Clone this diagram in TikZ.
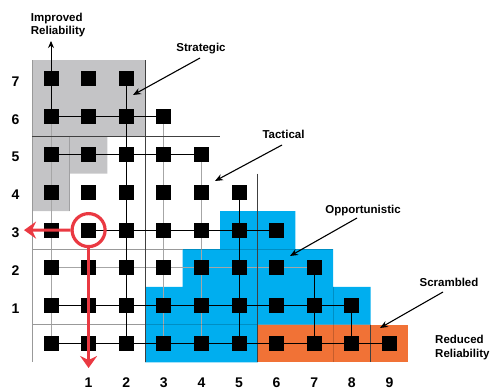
\documentclass[tikz,border=0pt]{standalone}
\usepackage{fontspec}
\setmainfont{Liberation Sans}
\usetikzlibrary{arrows.meta}
\definecolor{shadeGray}{RGB}{196,196,198}
\definecolor{shadeBlue}{RGB}{0,174,239}
\definecolor{shadeOrange}{RGB}{241,114,54}
\definecolor{markRed}{RGB}{234,57,66}
\pgfdeclarelayer{bg}
\pgfsetlayers{bg,main}
\begin{document}
\begin{tikzpicture}[x=1pt,y=-1pt,
  cell/.style={fill=black,minimum size=15pt,inner sep=0pt,outer sep=0pt},
  gridline/.style={draw=black!35,line width=0.9pt},
  link/.style={draw=black,line width=0.9pt},
  sepdark/.style={draw=black!75,line width=0.8pt},
  seplight/.style={draw=black!40,line width=0.8pt},
  sepfaint/.style={draw=black,opacity=0.18,line width=0.8pt},
  annot/.style={draw=black,line width=1.1pt,-{Stealth[length=8pt,width=6.5pt]}},
  redarrow/.style={draw=markRed,line width=3.2pt,-{Stealth[length=12pt,width=17pt,inset=4pt]}},
  lbl/.style={font=\bfseries\fontsize{11.5}{13.5}\selectfont,inner sep=0pt},
  axis/.style={font=\bfseries\fontsize{14}{16}\selectfont,inner sep=0pt}]
\useasboundingbox (0,0) rectangle (490,391);

% reliability cells: row j holds columns 0 .. 9-j
\foreach \j in {0,...,7}{
  \pgfmathtruncatemacro\last{9-\j}
  \foreach \i in {0,...,\last}{
    \node[cell] (s\i\j) at ({51+37.6*\i},{343.5-37.8*\j}) {};
  }
}

% free ends of the connectors
\coordinate (uptip) at (51,41);
\coordinate (rowtip) at (24,230.1);
\coordinate (coltip) at (88.6,368);
\coordinate (strat-from) at (200,58);
\coordinate (strat-to) at (133,95);
\coordinate (tact-from) at (282,145);
\coordinate (tact-to) at (215,181);
\coordinate (opp-from) at (357,218);
\coordinate (opp-to) at (290,256);
\coordinate (scr-from) at (443,292);
\coordinate (scr-to) at (380,328);

\begin{pgfonlayer}{bg}
  % zones
  \fill[shadeGray] (32.2,60) -- (145,60) -- (145,136) -- (107.4,136) -- (107.4,173.7)
     -- (69.8,173.7) -- (69.8,211.2) -- (32.2,211.2) -- cycle;
  \fill[shadeBlue] (220.2,211.2) -- (295.4,211.2) -- (295.4,249) -- (333,249) -- (333,286.8)
     -- (370.6,286.8) -- (370.6,324.6) -- (257.8,324.6) -- (257.8,362.4) -- (145,362.4)
     -- (145,286.8) -- (182.6,286.8) -- (182.6,249) -- (220.2,249) -- cycle;
  \fill[shadeOrange] (257.8,324.6) rectangle (408.2,362.4);

  % light links
  \draw[gridline] (s00.center) -- (s06.center);
  \draw[gridline] (s30.center) -- (s36.center);
  \draw[gridline] (s40.center) -- (s45.center);
  \draw[gridline] (s02.center) -- (s72.center);

  % zone boundaries
  \draw[seplight] (32.2,60) -- (32.2,362.4);
  \draw[seplight] (32.2,249) -- (182.6,249);
  \draw[sepfaint] (182.6,249) -- (333,249);
  \draw[seplight] (32.2,324.6) -- (145,324.6);
  \draw[sepfaint] (145,324.6) -- (370.6,324.6);
  \draw[sepfaint] (69.8,136) -- (69.8,211.2);
  \draw[sepfaint] (333,286.8) -- (333,362.4);
  \draw[sepdark] (145,60) -- (145,362.4);
  \draw[sepdark] (32.2,136) -- (220.2,136);
  \draw[sepdark] (257.8,173.7) -- (257.8,362.4);
  \draw[sepdark] (370.6,324.6) -- (370.6,362.4);

  % strong links
  \draw[link] (s06.center) -- (s07.center);
  \draw[link] (s20.center) -- (s27.center);
  \draw[link] (s50.center) -- (s54.center);
  \draw[link] (s70.center) -- (s72.center);
  \draw[link] (s80.center) -- (s81.center);
  \draw[link] (s06.center) -- (s36.center);
  \draw[link] (s05.center) -- (s45.center);
  \draw[link] (s13.center) -- (s63.center);
  \draw[link] (s01.center) -- (s81.center);
  \draw[link] (s00.center) -- (s90.center);
\end{pgfonlayer}

% reliability axis arrow
\draw[link,-{Stealth[length=7pt,width=6pt]}] (s07.center) -- (uptip);

% highlighted cell and its read-offs
\node[draw=markRed,line width=3.2pt,circle,minimum size=33pt,inner sep=0pt] (focus) at (s13) {};
\draw[redarrow] (focus.west) -- (rowtip);
\draw[redarrow] (focus.south) -- (coltip);

% zone callouts
\draw[annot] (strat-from) -- (strat-to);
\draw[annot] (tact-from) -- (tact-to);
\draw[annot] (opp-from) -- (opp-to);
\draw[annot] (scr-from) -- (scr-to);

% labels
\node[lbl,anchor=base west] (imp1) at (30.7,21) {Improved};
\node[lbl,anchor=base west] (imp2) at (30.7,34.5) {Reliability};
\node[lbl,anchor=base] (strategic) at (201,51) {Strategic};
\node[lbl,anchor=base] (tactical) at (283.5,138) {Tactical};
\node[lbl,anchor=base] (opportunistic) at (363,213) {Opportunistic};
\node[lbl,anchor=base] (scrambled) at (449,286) {Scrambled};
\node[lbl,anchor=base west] (red1) at (435,343.5) {Reduced};
\node[lbl,anchor=base west] (red2) at (435,357.5) {Reliability};

% axis numbers
\foreach \j in {1,...,7}{
  \node[axis] (row\j) at (15.5,{343.5-37.8*\j+2.5}) {\j};
}
\foreach \i in {1,...,9}{
  \node[axis] (col\i) at ({51+37.6*\i},383) {\i};
}
\end{tikzpicture}
\end{document}
